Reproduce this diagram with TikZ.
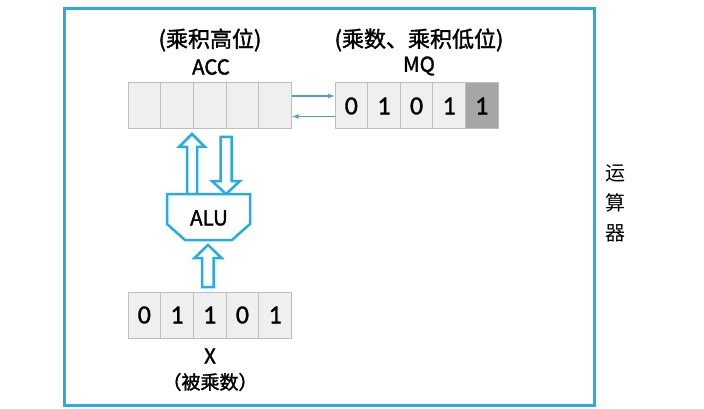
\documentclass[tikz,border=0pt]{standalone}
\usepackage{fontspec}
\setmainfont{Noto Sans CJK SC}
\newfontfamily\lblfont{Noto Sans CJK SC}[RawFeature={embolden=1.6}]
\newfontfamily\digitfont{Carlito}[RawFeature={embolden=1.2}]
\usetikzlibrary{arrows.meta}
\definecolor{frameblue}{HTML}{29ABE2}
\definecolor{linkblue}{HTML}{5B9BD5}
\definecolor{cellfill}{HTML}{EFEFEF}
\definecolor{cellline}{HTML}{BFBFBF}
\definecolor{darkcell}{HTML}{A6A6A6}
\begin{document}
\begin{tikzpicture}[x=1pt,y=-1pt,
  cell/.style={draw=cellline, fill=cellfill, line width=1pt, minimum width=32.7pt,
    minimum height=46pt, inner sep=0pt, outer sep=0pt, anchor=north west,
    font=\digitfont\fontsize{26}{26}\selectfont},
  toplbl/.style={font=\lblfont\fontsize{22}{22}\selectfont, inner sep=0pt},
  lbl/.style={font=\lblfont\fontsize{20.5}{20.5}\selectfont, inner sep=0pt},
  smlbl/.style={font=\lblfont\fontsize{19}{19}\selectfont, inner sep=0pt},
  blk/.style={draw=frameblue, line width=2.5pt, fill=white, line join=miter},
  link/.style={draw=linkblue, line width=1.3pt, -{Latex[length=7pt,width=5pt]}}]
\useasboundingbox (0,0) rectangle (704,409);
\draw[frameblue, line width=3pt] (64,9) rectangle (594,405);

% ACC register
\foreach \i in {1,...,5}
  \node[cell] (acc\i) at ({128+(\i-1)*32.7},83) {};
% MQ register
\node[cell] (mq1) at (335,83) {0};
\node[cell] (mq2) at (367.6,83) {1};
\node[cell] (mq3) at (400.2,83) {0};
\node[cell] (mq4) at (432.8,83) {1};
\node[cell, fill=darkcell] (mq5) at (465.4,83) {1};
% X register
\node[cell] (x1) at (128,292) {0};
\node[cell] (x2) at (160.7,292) {1};
\node[cell] (x3) at (193.4,292) {1};
\node[cell] (x4) at (226.1,292) {0};
\node[cell] (x5) at (258.8,292) {1};

% labels
\node[toplbl] (acclbl) at (210,40) {(乘积高位)};
\node[lbl] (accname) at (211,67) {ACC};
\node[toplbl] (mqlbl) at (419,40) {(乘数、乘积低位)};
\node[lbl] (mqname) at (419,66) {MQ};
\node[lbl] (xname) at (210,356) {X};
\node[smlbl] (xlbl) at (210,382) {（被乘数）};
\node[font=\fontsize{20}{30}\selectfont, align=center, inner sep=0pt] (unit) at (615,203) {运\\算\\器};

% links between ACC and MQ
\draw[link] ([yshift=-13pt]acc5.north east) -- ([yshift=-13pt]mq1.north west);
\draw[link] ([yshift=-33.5pt]mq1.north west) -- ([yshift=-33.5pt]acc5.north east);

% block arrows
\draw[blk] (187,194) -- (187,147) -- (179,147) -- (192,134) -- (205,147) -- (197,147) -- (197,194) -- cycle;
\draw[blk] (220.5,137) -- (231.5,137) -- (231.5,181) -- (240,181) -- (226,194) -- (212,181) -- (220.5,181) -- cycle;
\draw[blk] (202,287) -- (202,258) -- (194.5,258) -- (208,245) -- (221.5,258) -- (213.5,258) -- (213.5,287) -- cycle;

% ALU
\draw[blk] (167,194) -- (250,194) -- (250,224) -- (232,240) -- (185,240) -- (167,224) -- cycle;
\node[lbl] (alu) at (209,218) {ALU};
\end{tikzpicture}
\end{document}
